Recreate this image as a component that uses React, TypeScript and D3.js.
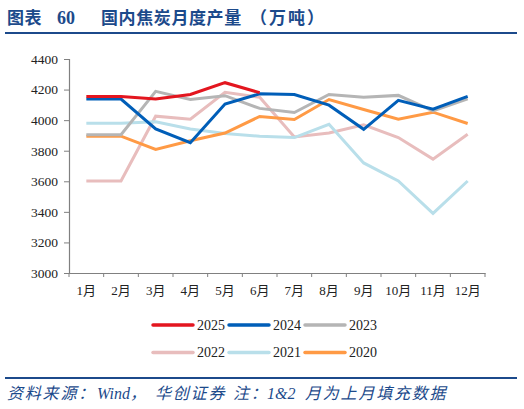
import React, { useRef, useEffect } from 'react';
import * as d3 from 'd3';

const months = ['1月', '2月', '3月', '4月', '5月', '6月', '7月', '8月', '9月', '10月', '11月', '12月'];

const y2025 = [4155, 4155, 4138, 4168, 4245, 4180];
const y2024 = [4138, 4138, 3942, 3852, 4105, 4172, 4168, 4098, 3940, 4130, 4072, 4155];
const y2023 = [3905, 3905, 4188, 4135, 4160, 4077, 4050, 4168, 4150, 4162, 4060, 4140];
const y2022 = [3602, 3602, 4026, 4006, 4182, 4150, 3890, 3916, 3970, 3886, 3745, 3908];
const y2021 = [3980, 3980, 3989, 3942, 3913, 3895, 3886, 3973, 3720, 3602, 3390, 3602];
const y2020 = [3895, 3895, 3808, 3865, 3916, 4024, 4004, 4135, 4070, 4006, 4052, 3978];

const yTicks = [3000, 3200, 3400, 3600, 3800, 4000, 4200, 4400];

interface Series {
  name: string;
  values: number[];
  color: string;
}

const series: Series[] = [
  { name: '2022', values: y2022, color: '#E8BDBD' },
  { name: '2021', values: y2021, color: '#B9DFEA' },
  { name: '2020', values: y2020, color: '#FF9A45' },
  { name: '2023', values: y2023, color: '#B5B5B5' },
  { name: '2024', values: y2024, color: '#005EB8' },
  { name: '2025', values: y2025, color: '#E3161F' },
];

const legendOrder = ['2025', '2024', '2023', '2022', '2021', '2020'];

// footer pieces: [text, x]
const footerParts: [string, number][] = [
  ['资料来源：', 7],
  ['Wind，', 97],
  ['华创证券', 155],
  ['注：', 233],
  ['1&2', 267],
  ['月为上月填充数据', 305],
];

const serif = '"Liberation Serif", "Times New Roman", "Noto Sans CJK SC", serif';
const navy = '#1C4A8B';

const App: React.FC = () => {
  const svgRef = useRef<SVGSVGElement | null>(null);

  useEffect(() => {
    if (!svgRef.current) return;
    const svg = d3.select(svgRef.current);
    svg.selectAll('*').remove();

    const width = 524;
    const height = 409;
    const margin = { top: 59, right: 39, bottom: 136, left: 69 };
    const innerWidth = width - margin.left - margin.right;
    const innerHeight = height - margin.top - margin.bottom;

    // header
    const title = svg.append('text')
      .attr('y', 24)
      .attr('fill', navy)
      .attr('font-family', serif)
      .attr('font-weight', 'bold')
      .attr('font-size', 17);
    title.append('tspan').attr('x', 7).attr('letter-spacing', 0.5).text('图表');
    title.append('tspan').attr('x', 57).attr('font-size', 18).text('60');
    title.append('tspan').attr('x', 101).attr('letter-spacing', 0.6).text('国内焦炭月度产量');
    title.append('tspan').attr('x', 250).attr('letter-spacing', 2).text('（万吨）');

    svg.append('line')
      .attr('x1', 5).attr('x2', 517)
      .attr('y1', 33).attr('y2', 33)
      .attr('stroke', navy).attr('stroke-width', 2);

    const x = d3.scaleBand<string>()
      .domain(months)
      .range([0, innerWidth]);

    const y = d3.scaleLinear()
      .domain([3000, 4400])
      .range([innerHeight, 0]);

    const g = svg.append('g')
      .attr('transform', `translate(${margin.left},${margin.top})`);

    // y-axis
    const yAxis = g.append('g')
      .call(d3.axisLeft(y).tickValues(yTicks).tickSize(5).tickPadding(6).tickFormat(d3.format('d')));
    yAxis.selectAll('text')
      .attr('font-family', serif)
      .attr('font-size', 13.5)
      .attr('fill', '#222');

    // x-axis with ticks at band edges
    const xAxis = g.append('g')
      .attr('transform', `translate(0,${innerHeight})`)
      .call(d3.axisBottom(x).tickSize(0).tickPadding(13));
    xAxis.selectAll('text')
      .attr('font-family', serif)
      .attr('font-size', 13)
      .attr('fill', '#222');
    xAxis.selectAll('.edge')
      .data([...months.map(m => x(m) as number), innerWidth])
      .join('line')
      .attr('x1', d => d).attr('x2', d => d)
      .attr('y1', 0).attr('y2', 4)
      .attr('stroke', '#808080');

    [yAxis, xAxis].forEach(a => {
      a.select('.domain').attr('stroke', '#808080').attr('stroke-width', 1.2);
      a.selectAll('.tick line').attr('stroke', '#808080');
    });

    const cx = (i: number) => (x(months[i]) as number) + x.bandwidth() / 2;

    const line = d3.line<number>()
      .x((_, i) => cx(i))
      .y(d => y(d));

    series.forEach(s => {
      g.append('path')
        .datum(s.values)
        .attr('fill', 'none')
        .attr('stroke', s.color)
        .attr('stroke-width', 3)
        .attr('stroke-linejoin', 'miter')
        .attr('d', line);
    });

    // legend
    const colorOf = (n: string) => series.find(s => s.name === n)!.color;
    const legend = svg.append('g').attr('transform', 'translate(153,325)');
    legendOrder.forEach((n, i) => {
      const col = i % 3;
      const row = Math.floor(i / 3);
      const item = legend.append('g')
        .attr('transform', `translate(${col * 76},${row * 27.5})`);
      item.append('line')
        .attr('x1', 0).attr('x2', 40)
        .attr('stroke', colorOf(n))
        .attr('stroke-width', 3.5)
        .attr('stroke-linecap', 'round');
      item.append('text')
        .attr('x', 44)
        .attr('dy', '0.35em')
        .attr('font-family', serif)
        .attr('font-size', 14)
        .attr('fill', '#222')
        .text(n);
    });

    // footer
    svg.append('line')
      .attr('x1', 5).attr('x2', 517)
      .attr('y1', 378).attr('y2', 378)
      .attr('stroke', navy).attr('stroke-width', 2);

    const footer = svg.append('text')
      .attr('y', 399)
      .attr('fill', navy)
      .attr('font-family', serif)
      .attr('font-style', 'italic')
      .attr('font-size', 16);
    footerParts.forEach(([t, px]) => {
      footer.append('tspan')
        .attr('x', px)
        .attr('letter-spacing', /[A-Za-z0-9]/.test(t) ? 0 : 1.8)
        .text(t);
    });
  }, []);

  return (
    <svg
      ref={svgRef}
      width={524}
      height={409}
      style={{ position: 'absolute', left: 0, top: 0, background: '#fff' }}
    />
  );
};

export default App;
